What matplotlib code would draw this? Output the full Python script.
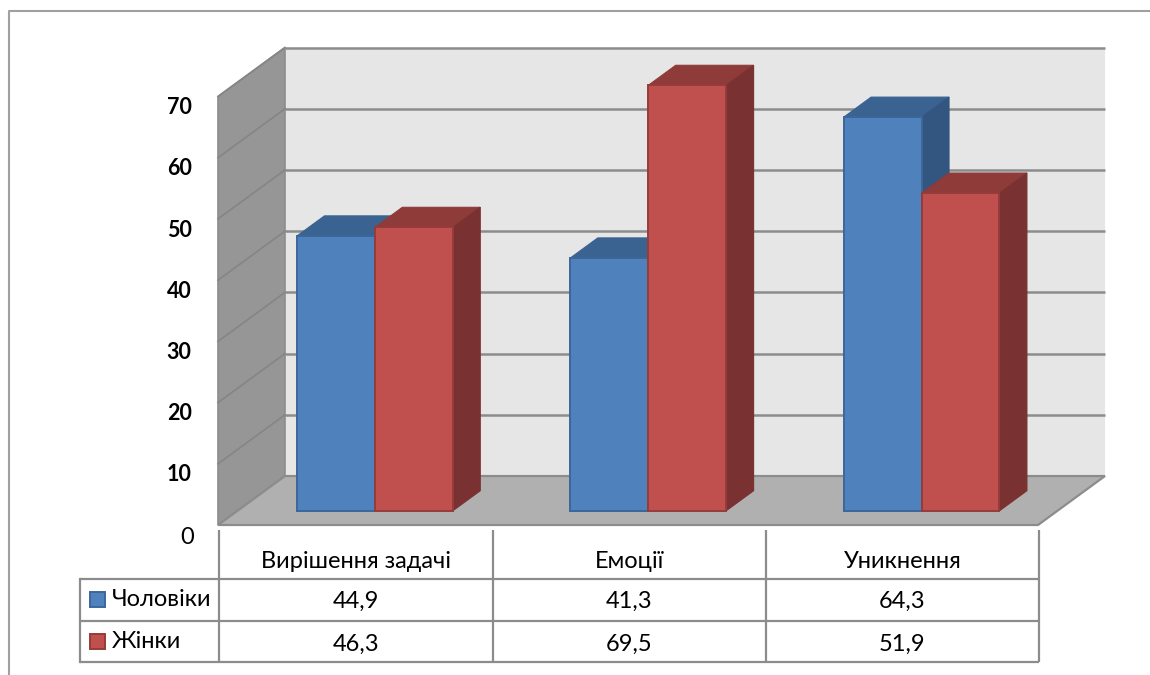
import matplotlib
matplotlib.use("Agg")
import matplotlib.pyplot as plt
from matplotlib.patches import Polygon, Rectangle

plt.rcParams['font.family'] = ['Lato', 'Open Sans', 'DejaVu Sans']

categories = ['Вирішення задачі', 'Емоції', 'Уникнення']
series_names = ['Чоловіки', 'Жінки']
men = [44.9, 41.3, 64.3]
women = [46.3, 69.5, 51.9]
y_ticks = [0, 10, 20, 30, 40, 50, 60, 70]

W, H = 1150, 675
# front plane of the chart box, in pixels
left, right, top, bottom = 218, 1038, 96.5, 525
# how far the back wall sits from the front plane, in data units
depth_x, depth_y = 0.245, 8.0
bar_w = 0.285
near, far = 0.29, 0.70

line_grey = '#8c8c8c'
front = ['#4f81bd', '#c0504d']
edge = ['#3c679a', '#953c3a']
lid = ['#3b6391', '#8e3b39']
side = ['#325680', '#7a3131']
table_size = 17


def shift(x, y, t):
    return (x + depth_x * t, y + depth_y * t)


fig = plt.figure(figsize=(W / 100, H / 100), dpi=100)

# overlay in pixels for the outer frame and the table under the chart
over = fig.add_axes([0, 0, 1, 1], zorder=0)
over.set_xlim(0, W)
over.set_ylim(H, 0)
over.axis('off')

ax = fig.add_axes([left / W, 1 - bottom / H, (right - left) / W, (bottom - top) / H], zorder=1)
ax.set_xlim(0, 3)
ax.set_ylim(0, 70)
ax.axis('off')
ax.patch.set_alpha(0)

ymax = y_ticks[-1]
# walls and floor
ax.add_patch(Polygon([shift(0, 0, 1), shift(3, 0, 1), shift(3, ymax, 1), shift(0, ymax, 1)],
                     fc='#e6e6e6', ec='none', clip_on=False, zorder=1))
ax.add_patch(Polygon([(0, 0), shift(0, 0, 1), shift(0, ymax, 1), (0, ymax)],
                     fc='#969696', ec='#8c8c8c', lw=1.2, clip_on=False, zorder=2))
ax.add_patch(Polygon([(0, 0), (3, 0), shift(3, 0, 1), shift(0, 0, 1)],
                     fc='#b0b0b0', ec='#8c8c8c', lw=1.6, clip_on=False, zorder=2))

for v in y_ticks[1:]:
    x0, y0 = shift(0, v, 1)
    x1, y1 = shift(3, v, 1)
    ax.plot([x0, x1], [y0, y1], color=line_grey, lw=1.8, clip_on=False, zorder=1.5,
            solid_capstyle='butt')
    ax.plot([0, x0], [v, y0], color='#858585', lw=1.2, clip_on=False, zorder=2.5)

# axis labels sit a little below their gridlines
for v in y_ticks:
    ax.annotate(str(v), (0, v), xytext=(-19 if v else -17, -8 if v else -9), textcoords='offset points',
                ha='right', va='center', fontsize=15.5 if v else 17, color='black',
                annotation_clip=False, fontweight='bold' if v else 'normal')


def draw_box(x, val, k, z):
    a = shift(x, 0, near)
    b = shift(x + bar_w, 0, near)
    c = shift(x + bar_w, val, near)
    d = shift(x, val, near)
    c2 = shift(x + bar_w, val, far)
    d2 = shift(x, val, far)
    b2 = shift(x + bar_w, 0, far)
    ax.add_patch(Polygon([d, c, c2, d2], fc=lid[k], ec=lid[k], lw=0.8, clip_on=False, zorder=z))
    ax.add_patch(Polygon([b, b2, c2, c], fc=side[k], ec=side[k], lw=0.8, clip_on=False, zorder=z))
    ax.add_patch(Polygon([a, b, c, d], fc=front[k], ec=edge[k], lw=1.4, clip_on=False, zorder=z))


for i in range(len(categories)):
    center = i + 0.503
    draw_box(center - bar_w, men[i], 0, 3 + i * 0.1)
    draw_box(center, women[i], 1, 3.05 + i * 0.1)

# outer frame
over.plot([9, 9, W], [H, 11, 11], color='#a0a0a0', lw=1.5)

# data table
col_x = [219, 492.5, 766, 1039]
row_y = [579, 621, 662]
name_x = 80
for x in col_x:
    over.plot([x, x], [530, row_y[-1]], color=line_grey, lw=1.6, solid_capstyle='butt')
over.plot([name_x, name_x], [row_y[0], row_y[-1]], color=line_grey, lw=1.6)
for y in row_y:
    over.plot([name_x, col_x[-1]], [y, y], color=line_grey, lw=1.6, solid_capstyle='butt')

for i, name in enumerate(categories):
    cx = (col_x[i] + col_x[i + 1]) / 2
    over.text(cx, 562, name, ha='center', va='center', fontsize=table_size, color='black')
    for y, vals in zip((601, 644), (men, women)):
        over.text(cx, y, f'{vals[i]:.1f}'.replace('.', ','), ha='center', va='center',
                  fontsize=table_size, color='black')

for k, (name, y) in enumerate(zip(series_names, (600, 642))):
    over.add_patch(Rectangle((90, y - 8), 15, 15, fc=front[k], ec=edge[k], lw=1.4))
    over.text(112, y, name, ha='left', va='center', fontsize=table_size, color='black')

fig.savefig('out.png', dpi=100)
